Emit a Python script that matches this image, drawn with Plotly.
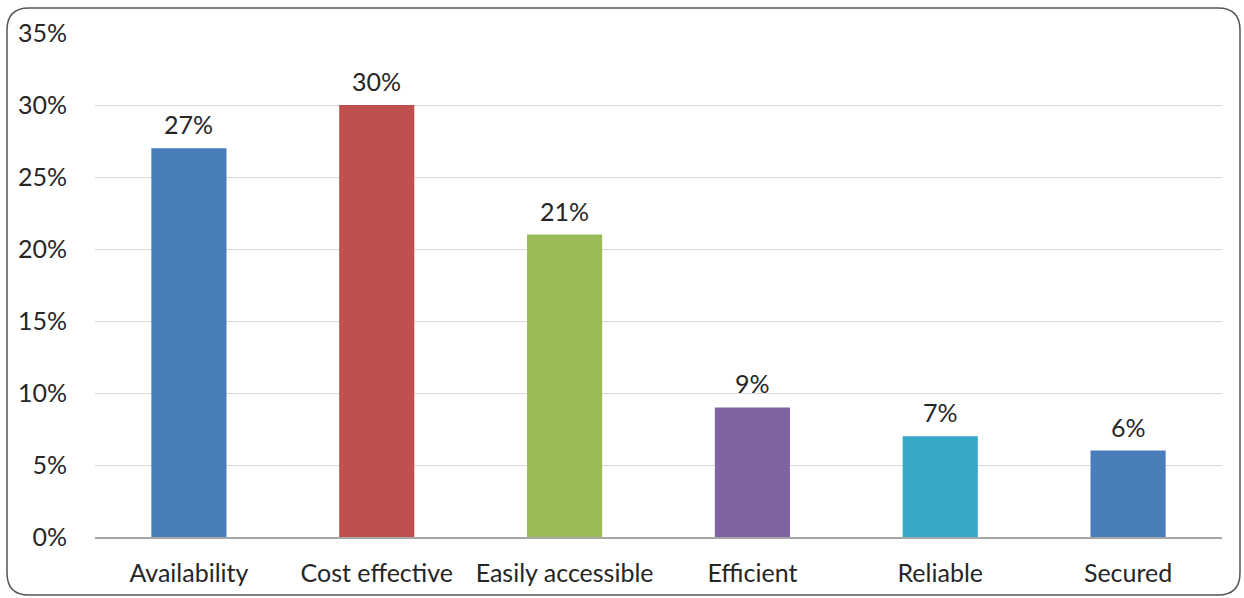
import plotly.graph_objects as go

categories = ["Availability", "Cost effective", "Easily accessible", "Efficient", "Reliable", "Secured"]
values = [27, 30, 21, 9, 7, 6]
colors = ["#4A7EBB", "#C0504D", "#9BBB59", "#8064A2", "#35A9C6", "#4A7EBB"]
tick_vals = [0, 5, 10, 15, 20, 25, 30, 35]
tick_text = ["0%", "5%", "10%", "15%", "20%", "25%", "30%", "35%"]

W, H = 1244, 598
ML, MR, MT, MB = 95, 22, 33, 61
pw, ph = W - ML - MR, H - MT - MB
FONT = "Lato, Open Sans, sans-serif"
TXT = "#262626"
FS = 25

fig = go.Figure(go.Bar(
    x=categories, y=values,
    marker=dict(color=colors, line=dict(width=0)),
    hoverinfo="skip",
))

# value labels above each bar
for c, v in zip(categories, values):
    fig.add_annotation(x=c, y=v, text=f"{v}%", showarrow=False,
                       yanchor="bottom", yshift=7,
                       font=dict(family=FONT, size=FS, color=TXT))

# rounded frame around the whole chart, expressed in paper coordinates
def px(x):
    return (x - ML) / pw

def py(y):
    return (H - MB - y) / ph

x0, x1, y0, y1, r = 7, 1240, 8, 595, 22
path = (
    f"M {px(x0 + r)} {py(y0)} L {px(x1 - r)} {py(y0)} "
    f"Q {px(x1)} {py(y0)} {px(x1)} {py(y0 + r)} "
    f"L {px(x1)} {py(y1 - r)} Q {px(x1)} {py(y1)} {px(x1 - r)} {py(y1)} "
    f"L {px(x0 + r)} {py(y1)} Q {px(x0)} {py(y1)} {px(x0)} {py(y1 - r)} "
    f"L {px(x0)} {py(y0 + r)} Q {px(x0)} {py(y0)} {px(x0 + r)} {py(y0)} Z"
)

fig.update_layout(
    width=W, height=H,
    margin=dict(l=ML, r=MR, t=MT, b=MB),
    paper_bgcolor="white", plot_bgcolor="white",
    font=dict(family=FONT, size=FS, color=TXT),
    bargap=0.6,
    showlegend=False,
    xaxis=dict(showgrid=False, showline=True, linecolor="#A6A6A6", linewidth=1.5,
               ticks="", ticklabelstandoff=13,
               tickfont=dict(family=FONT, size=FS, color=TXT)),
    yaxis=dict(range=[0, 35], tickvals=tick_vals, ticktext=tick_text,
               showgrid=True, gridcolor="#D9D9D9", gridwidth=1,
               zeroline=False, showline=False, ticks="", ticklabelstandoff=27,
               tickfont=dict(family=FONT, size=FS, color=TXT)),
    shapes=[dict(type="path", xref="paper", yref="paper", path=path,
                 line=dict(color="#555555", width=1.5), layer="above")],
)

fig.write_html("out.html")
